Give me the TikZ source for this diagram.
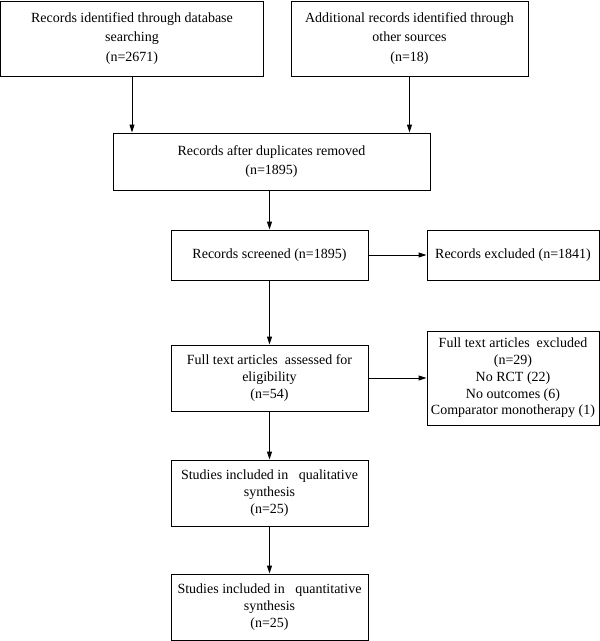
\documentclass[tikz,border=0pt]{standalone}
\usepackage{fontspec}
\setmainfont{Liberation Serif}
\usetikzlibrary{arrows.meta}
\begin{document}
\begin{tikzpicture}[x=1pt,y=-1pt,
  box/.style={draw, line width=0.9pt, align=center, inner sep=2pt,
    font=\fontsize{14}{16.7}\selectfont},
  wide/.style={font=\fontsize{14}{19.7}\selectfont},
  arr/.style={line width=0.9pt, -{Triangle[length=8pt,width=5pt]}}]
\useasboundingbox (0,0) rectangle (600,641);
\node[box, wide, minimum width=263pt, minimum height=75pt] (b1) at (132,38.5)
  {Records identified through database\\searching\\(n=2671)};
\node[box, wide, minimum width=237pt, minimum height=75pt] (b2) at (409.5,38.5)
  {Additional records identified through\\other sources\\(n=18)};
\node[box, wide, minimum width=317pt, minimum height=57pt] (b3) at (271.5,161.5)
  {Records after duplicates removed\\(n=1895)};
\node[box, minimum width=197pt, minimum height=50pt] (s) at (269.5,255)
  {Records screened (n=1895)};
\node[box, minimum width=172pt, minimum height=50pt] (e1) at (513,255)
  {Records excluded (n=1841)};
\node[box, minimum width=197pt, minimum height=66pt] (f) at (269.5,378)
  {Full text articles\ \ assessed for\\eligibility\\(n=54)};
\node[box, minimum width=172pt, minimum height=94pt] (e2) at (513,378)
  {Full text articles\ \ excluded\\(n=29)\\No RCT (22)\\No outcomes (6)\\Comparator monotherapy (1)};
\node[box, minimum width=197pt, minimum height=66pt] (q1) at (269.5,493)
  {Studies included in\ \ \ qualitative\\synthesis\\(n=25)};
\node[box, minimum width=197pt, minimum height=66pt] (q2) at (269.5,607)
  {Studies included in\ \ \ quantitative\\synthesis\\(n=25)};
\draw[arr] (b1.south) -- (b1.south |- b3.north);
\draw[arr] (b2.south) -- (b2.south |- b3.north);
\draw[arr] (b3.south -| s.north) -- (s.north);
\draw[arr] (s.east) -- (e1.west);
\draw[arr] (s.south) -- (f.north);
\draw[arr] (f.east) -- (e2.west |- f.east);
\draw[arr] (f.south) -- (q1.north);
\draw[arr] (q1.south) -- (q2.north);
\end{tikzpicture}
\end{document}
